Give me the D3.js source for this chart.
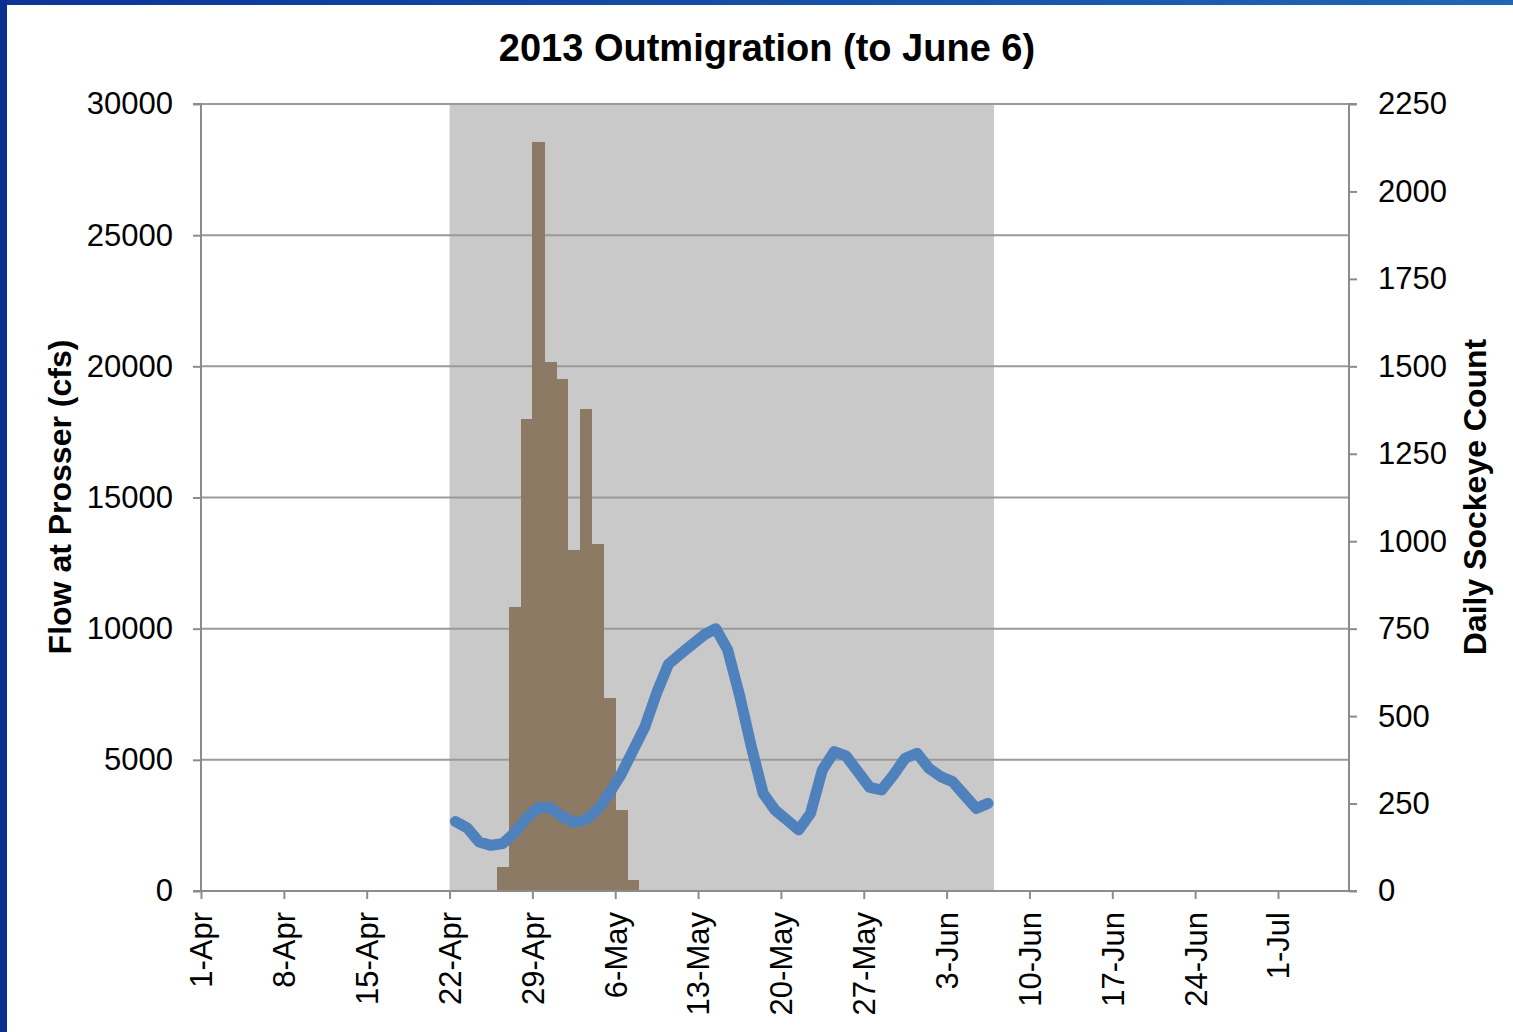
<!DOCTYPE html>
<html>
<head>
<meta charset="utf-8">
<script src="https://cdn.jsdelivr.net/npm/d3@7"></script>
<style>
  html, body { margin: 0; padding: 0; background: #fff; }
  svg { display: block; }
  text { font-family: "Liberation Sans", Arial, sans-serif; fill: #000; }
</style>
</head>
<body>
<svg id="chart" width="1513" height="1032"></svg>
<script>
// ---- data ----
const title = "2013 Outmigration (to June 6)";
const leftAxisTitle = "Flow at Prosser (cfs)";
const rightAxisTitle = "Daily Sockeye Count";

// daily sockeye counts (right axis)
const countDates = ["2013-04-21","2013-04-26","2013-04-27","2013-04-28","2013-04-29","2013-04-30",
  "2013-05-01","2013-05-02","2013-05-03","2013-05-04","2013-05-05","2013-05-06","2013-05-07",
  "2013-05-08","2013-05-21","2013-06-02"];
const countValues = [3, 68, 812, 1348, 2142, 1513, 1465, 976, 1379, 992, 552, 233, 32, 3, 2, 2];

// flow at Prosser (left axis), daily Apr 22 .. Jun 6
const flowStart = "2013-04-22";
const flowValues = [2650, 2400, 1870, 1740, 1810, 2220, 2780, 3180, 3180, 2840,
  2620, 2710, 3100, 3720, 4450, 5350, 6250, 7550, 8650, 9030,
  9400, 9760, 10000, 9190, 7470, 5500, 3720, 3090, 2710, 2330,
  2960, 4610, 5310, 5150, 4550, 3950, 3850, 4420, 5060, 5250,
  4680, 4360, 4170, 3660, 3150, 3340];

// shaded period
const shadeStart = "2013-04-22";
const shadeEnd = "2013-06-07";

// axes
const xDomain = ["2013-04-01", "2013-07-07"];
const xTickDates = ["2013-04-01","2013-04-08","2013-04-15","2013-04-22","2013-04-29","2013-05-06",
  "2013-05-13","2013-05-20","2013-05-27","2013-06-03","2013-06-10","2013-06-17","2013-06-24","2013-07-01"];
const leftTicks = [0, 5000, 10000, 15000, 20000, 25000, 30000];
const rightTicks = [0, 250, 500, 750, 1000, 1250, 1500, 1750, 2000, 2250];

// ---- drawing ----
const parse = d3.utcParse("%Y-%m-%d");
const DAY = 864e5;
const svg = d3.select("#chart");

const L = 201, R = 1349, T = 104, B = 891;

const x = d3.scaleUtc().domain(xDomain.map(parse)).range([L, R]);
const yL = d3.scaleLinear().domain([0, 30000]).range([B, T]);
const yR = d3.scaleLinear().domain([0, 2250]).range([B, T]);

// frame
const defs = svg.append("defs");
const grad = defs.append("linearGradient").attr("id", "topgrad");
grad.append("stop").attr("offset", "0%").attr("stop-color", "#0d3595");
grad.append("stop").attr("offset", "100%").attr("stop-color", "#1f66ba");
svg.append("rect").attr("x", 0).attr("y", 0).attr("width", 1513).attr("height", 5).attr("fill", "url(#topgrad)");
svg.append("rect").attr("x", 0).attr("y", 0).attr("width", 7).attr("height", 1032).attr("fill", "#0c2f8e");

// shade
svg.append("rect")
  .attr("x", x(parse(shadeStart)))
  .attr("y", T)
  .attr("width", x(parse(shadeEnd)) - x(parse(shadeStart)))
  .attr("height", B - T)
  .attr("fill", "#c9c9c9");

// gridlines
svg.append("g").selectAll("line").data(leftTicks.filter(d => d > 0)).join("line")
  .attr("x1", L).attr("x2", R)
  .attr("y1", d => yL(d)).attr("y2", d => yL(d))
  .attr("stroke", "#9a9a9a").attr("stroke-width", 2);

// bars
const bars = countDates.map((d, i) => ({ date: parse(d), v: countValues[i] }));
svg.append("g").attr("shape-rendering", "crispEdges").selectAll("rect").data(bars).join("rect")
  .attr("x", d => x(d.date))
  .attr("width", d => x(new Date(+d.date + DAY)) - x(d.date) + 0.6)
  .attr("y", d => yR(d.v))
  .attr("height", d => B - yR(d.v))
  .attr("fill", "#8c7a64");

// flow line
const f0 = parse(flowStart);
const flow = flowValues.map((v, i) => ({ date: new Date(+f0 + i * DAY + DAY / 2), v }));
svg.append("path").datum(flow)
  .attr("d", d3.line().x(d => x(d.date)).y(d => yL(d.v)))
  .attr("fill", "none")
  .attr("stroke", "#4f81bd")
  .attr("stroke-width", 11)
  .attr("stroke-linejoin", "round")
  .attr("stroke-linecap", "round");

// axes
const axisColor = "#8c8c8c";
const gL = svg.append("g").attr("transform", `translate(${L},0)`)
  .call(d3.axisLeft(yL).tickValues(leftTicks).tickSize(8).tickPadding(20).tickFormat(d3.format("d")));
const gR = svg.append("g").attr("transform", `translate(${R},0)`)
  .call(d3.axisRight(yR).tickValues(rightTicks).tickSize(8).tickPadding(21).tickFormat(d3.format("d")));
const gB = svg.append("g").attr("transform", `translate(0,${B})`)
  .call(d3.axisBottom(x).tickValues(xTickDates.map(parse)).tickSize(8).tickFormat(d3.utcFormat("%-d-%b")));

[gL, gR, gB].forEach(g => {
  g.select(".domain").attr("stroke", axisColor).attr("stroke-width", 2);
  g.selectAll(".tick line").attr("stroke", axisColor).attr("stroke-width", 2);
  g.selectAll("text").attr("font-size", 31).attr("font-family", "Liberation Sans, Arial, sans-serif").attr("fill", "#000");
});
gL.select(".domain").attr("d", `M-8,${T}H0V${B}`);
gR.select(".domain").attr("d", `M8,${T}H0V${B}`);
gB.select(".domain").attr("d", `M${L - 8},0H${R + 8}`);

gB.selectAll(".tick text")
  .attr("text-anchor", "end")
  .attr("transform", "translate(0,21) rotate(-90)")
  .attr("x", 0).attr("y", 0).attr("dy", "0.35em");

// titles
svg.append("text").attr("x", 767).attr("y", 61).attr("text-anchor", "middle")
  .attr("font-size", 38).attr("font-weight", "bold").text(title);
svg.append("text").attr("transform", "translate(71,497) rotate(-90)").attr("text-anchor", "middle")
  .attr("font-size", 32).attr("font-weight", "bold").text(leftAxisTitle);
svg.append("text").attr("transform", "translate(1486,497) rotate(-90)").attr("text-anchor", "middle")
  .attr("font-size", 32).attr("font-weight", "bold").text(rightAxisTitle);
</script>
</body>
</html>
